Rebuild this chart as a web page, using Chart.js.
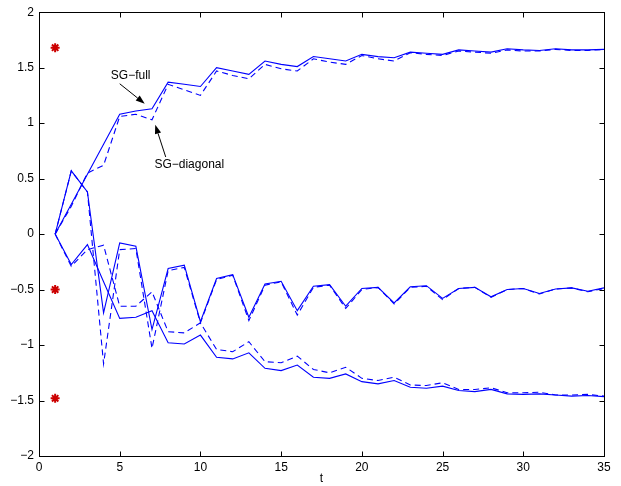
<!DOCTYPE html>
<html>
<head>
<meta charset="utf-8">
<script src="https://cdn.jsdelivr.net/npm/chart.js@4/dist/chart.umd.min.js"></script>
<style>
html,body{margin:0;padding:0;background:#fff;}
#wrap{width:621px;height:486px;}
</style>
</head>
<body>
<div id="wrap"><canvas id="c" width="621" height="486"></canvas></div>
<script>
const t = [1,2,3,4,5,6,7,8,9,10,11,12,13,14,15,16,17,18,19,20,21,22,23,24,25,26,27,28,29,30,31,32,33,34,35];

const topFull = [0,0.27,0.54,0.81,1.08,1.11,1.13,1.37,1.35,1.33,1.50,1.47,1.44,1.56,1.53,1.51,1.60,1.58,1.56,1.62,1.60,1.59,1.64,1.63,1.62,1.66,1.65,1.64,1.67,1.66,1.655,1.67,1.66,1.66,1.665];
const topDiag = [0,0.25,0.55,0.62,1.06,1.08,1.03,1.35,1.30,1.25,1.47,1.43,1.40,1.53,1.49,1.47,1.58,1.55,1.53,1.61,1.58,1.56,1.635,1.62,1.61,1.65,1.64,1.63,1.66,1.65,1.65,1.665,1.655,1.655,1.665];

const midFull = [0,0.57,0.38,-0.71,-0.08,-0.11,-0.86,-0.31,-0.28,-0.79,-0.40,-0.365,-0.75,-0.45,-0.425,-0.69,-0.47,-0.455,-0.65,-0.49,-0.48,-0.62,-0.475,-0.465,-0.58,-0.49,-0.48,-0.565,-0.50,-0.49,-0.535,-0.495,-0.485,-0.515,-0.485];
const midDiag = [0,0.57,0.38,-1.17,-0.14,-0.13,-1.03,-0.33,-0.30,-0.80,-0.41,-0.37,-0.78,-0.46,-0.43,-0.73,-0.48,-0.46,-0.67,-0.50,-0.48,-0.63,-0.48,-0.47,-0.59,-0.49,-0.48,-0.57,-0.50,-0.49,-0.54,-0.495,-0.485,-0.52,-0.49];

const lowFull = [0,-0.275,-0.095,-0.43,-0.76,-0.75,-0.69,-0.98,-0.99,-0.91,-1.11,-1.125,-1.07,-1.21,-1.23,-1.18,-1.29,-1.30,-1.26,-1.33,-1.35,-1.32,-1.38,-1.39,-1.37,-1.41,-1.42,-1.40,-1.44,-1.445,-1.44,-1.45,-1.46,-1.455,-1.465];
const lowDiag = [0,-0.29,-0.14,-0.10,-0.65,-0.65,-0.52,-0.88,-0.89,-0.80,-1.04,-1.06,-0.97,-1.15,-1.16,-1.10,-1.22,-1.25,-1.20,-1.30,-1.32,-1.29,-1.36,-1.365,-1.34,-1.40,-1.40,-1.385,-1.43,-1.43,-1.425,-1.45,-1.45,-1.445,-1.46];

const targetT = [1,1,1];
const targetY = [1.68,-0.5,-1.48];

const xTicks = [0,5,10,15,20,25,30,35];
const yTicks = [-2,-1.5,-1,-0.5,0,0.5,1,1.5,2];

const annotations = [
  {text:'SG\u2212full', tx:4.45, ty:1.43, from:[5.0,1.355], to:[6.55,1.175]},
  {text:'SG\u2212diagonal', tx:7.15, ty:0.625, from:[7.85,0.695], to:[7.2,0.985]}
];

const pts = (xs, ys) => xs.map((x,i)=>({x:x, y:ys[i]}));
const BLUE = '#0000ff';
const FONT = '"Liberation Sans", Arial, sans-serif';

function lineDs(ys, dashed){
  return {type:'line', data:pts(t, ys), borderColor:BLUE, borderWidth:1.1,
    borderDash: dashed ? [6,4] : [], pointRadius:0, fill:false, tension:0};
}

const framePlugin = {
  id:'frame',
  afterDatasetsDraw(chart){
    const ctx = chart.ctx, a = chart.chartArea;
    const xs = chart.scales.x, ys = chart.scales.y;
    ctx.save();
    ctx.strokeStyle = '#000';
    ctx.lineWidth = 1;
    const L = Math.round(a.left)+0.5, R = Math.round(a.right)+0.5, T = Math.round(a.top)+0.5, B = Math.round(a.bottom)+0.5;
    ctx.strokeRect(L, T, R-L, B-T);
    ctx.beginPath();
    xTicks.forEach(v=>{
      const px = Math.round(xs.getPixelForValue(v))+0.5;
      ctx.moveTo(px,B); ctx.lineTo(px,B-5);
      ctx.moveTo(px,T); ctx.lineTo(px,T+5);
    });
    yTicks.forEach(v=>{
      const py = Math.round(ys.getPixelForValue(v))+0.5;
      ctx.moveTo(L,py); ctx.lineTo(L+5,py);
      ctx.moveTo(R,py); ctx.lineTo(R-5,py);
    });
    ctx.stroke();

    ctx.fillStyle = '#000';
    ctx.font = '12px ' + FONT;
    ctx.textBaseline = 'middle';
    ctx.textAlign = 'left';
    annotations.forEach(an=>{
      const tx = xs.getPixelForValue(an.tx), ty = ys.getPixelForValue(an.ty);
      ctx.fillText(an.text, tx, ty);
      const x1 = xs.getPixelForValue(an.from[0]), y1 = ys.getPixelForValue(an.from[1]);
      const x2 = xs.getPixelForValue(an.to[0]), y2 = ys.getPixelForValue(an.to[1]);
      const ang = Math.atan2(y2-y1, x2-x1);
      const hl = 9, hw = 3.2;
      const bx = x2 - hl*Math.cos(ang), by = y2 - hl*Math.sin(ang);
      ctx.beginPath();
      ctx.moveTo(x1,y1); ctx.lineTo(bx,by);
      ctx.stroke();
      ctx.beginPath();
      ctx.moveTo(x2,y2);
      ctx.lineTo(bx + hw*Math.sin(ang), by - hw*Math.cos(ang));
      ctx.lineTo(bx - hw*Math.sin(ang), by + hw*Math.cos(ang));
      ctx.closePath();
      ctx.fill();
    });
    ctx.restore();
  }
};

new Chart(document.getElementById('c'), {
  type:'line',
  data:{datasets:[
    lineDs(topFull,false), lineDs(topDiag,true),
    lineDs(midFull,false), lineDs(midDiag,true),
    lineDs(lowFull,false), lineDs(lowDiag,true),
    {type:'scatter', data:pts(targetT,targetY), pointStyle:'star', pointRadius:4.5,
      borderColor:'#cc0000', backgroundColor:'#ff0000', borderWidth:2, showLine:false}
  ]},
  options:{
    responsive:false, animation:false,
    layout:{padding:{top:9, right:17, left:0, bottom:0}},
    plugins:{legend:{display:false}, tooltip:{enabled:false}},
    scales:{
      x:{type:'linear', min:0, max:35,
        afterBuildTicks(s){ s.ticks = xTicks.map(v=>({value:v})); },
        afterFit(s){ s.height = 30; },
        grid:{display:false, drawTicks:false}, border:{display:false},
        ticks:{padding:4, color:'#000', font:{family:FONT, size:12}, maxRotation:0,
          callback:(v)=>String(v)},
        title:{display:true, text:'t', color:'#000', font:{family:FONT, size:12}, padding:{top:0,bottom:0}}
      },
      y:{type:'linear', min:-2, max:2,
        afterBuildTicks(s){ s.ticks = yTicks.map(v=>({value:v})); },
        afterFit(s){ s.width = 39; },
        grid:{display:false, drawTicks:false}, border:{display:false},
        ticks:{padding:5, color:'#000', font:{family:FONT, size:12},
          callback:(v)=>String(v).replace('-','\u2212')}
      }
    }
  },
  plugins:[framePlugin]
});
</script>
</body>
</html>
